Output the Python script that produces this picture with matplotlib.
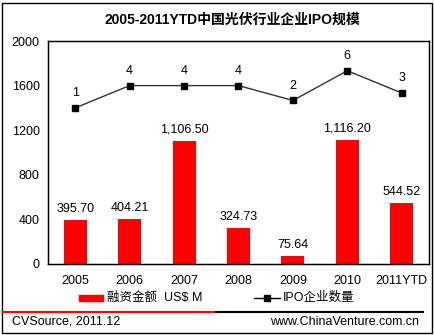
import matplotlib.pyplot as plt
from matplotlib.lines import Line2D
from matplotlib.patches import Rectangle
import numpy as np

plt.rcParams['font.family'] = ['Liberation Sans', 'Noto Sans CJK SC', 'DejaVu Sans']

years = ['2005', '2006', '2007', '2008', '2009', '2010', '2011YTD']
amounts = [395.70, 404.21, 1106.50, 324.73, 75.64, 1116.20, 544.52]
ipo_counts = [1, 4, 4, 4, 2, 6, 3]

fig = plt.figure(figsize=(4.35, 3.35), dpi=100)
W, H = 435, 335

# outer frame
fig.patches.append(Rectangle((2 / W, 2 / H), 430 / W, 330 / H, transform=fig.transFigure,
                             fill=False, edgecolor='black', linewidth=1))

ax = fig.add_axes([48 / W, 1 - 264 / H, (429 - 48) / W, (264 - 41) / H])
x = np.arange(len(years))
ax.bar(x, amounts, width=0.42, color='#ff0000')
for xi, v in zip(x, amounts):
    ax.text(xi, v + 45, f'{v:,.2f}', ha='center', va='bottom', fontsize=9)
ax.set_xlim(-0.5, len(years) - 0.5)
ax.set_ylim(0, 2000)
ax.set_yticks([0, 400, 800, 1200, 1600, 2000])
ax.set_xticks(x)
ax.set_xticklabels(years)
ax.tick_params(length=0, labelsize=9, pad=6)
ax.tick_params(axis='x', pad=8)
for s in ax.spines.values():
    s.set_linewidth(1)

# IPO counts on a hidden secondary scale
ax2 = ax.twinx()
ax2.plot(x, ipo_counts, color='#333333', linewidth=1, marker='s', markersize=5,
         markerfacecolor='black', markeredgecolor='black')
for xi, n in zip(x, ipo_counts):
    ax2.text(xi, n + 1.2, str(n), ha='center', va='bottom', fontsize=9)
ax2.set_ylim(-20, 10)
ax2.set_yticks([])
ax2.set_xlim(-0.5, len(years) - 0.5)

fig.text(232 / W, 1 - 20 / H, '2005-2011YTD中国光伏行业企业IPO规模', ha='center', va='center',
         fontsize=10, fontweight='bold')

# legend
fig.patches.append(Rectangle((79 / W, 1 - 301 / H), 24 / W, 6 / H, transform=fig.transFigure,
                             color='#ff0000'))
fig.text(107 / W, 1 - 298 / H, '融资金额  US$ M', ha='left', va='center', fontsize=9)
fig.lines.append(Line2D([254 / W, 280 / W], [1 - 298 / H, 1 - 298 / H], transform=fig.transFigure,
                        color='black', linewidth=1))
fig.lines.append(Line2D([267 / W], [1 - 298 / H], transform=fig.transFigure,
                        color='black', marker='s', markersize=5, linestyle='none'))
fig.text(283 / W, 1 - 298 / H, 'IPO企业数量', ha='left', va='center', fontsize=9)

# footer lines
fig.lines.append(Line2D([3 / W, 216 / W], [1 - 312 / H, 1 - 312 / H], transform=fig.transFigure,
                        color='#ff0000', linewidth=1.5))
fig.lines.append(Line2D([216 / W, 423 / W], [1 - 312 / H, 1 - 312 / H], transform=fig.transFigure,
                        color='black', linewidth=1.5))
fig.text(12 / W, 1 - 322 / H, 'CVSource, 2011.12', ha='left', va='center', fontsize=9)
fig.text(419 / W, 1 - 322 / H, 'www.ChinaVenture.com.cn', ha='right', va='center', fontsize=9)

fig.savefig('out.png', dpi=100)
